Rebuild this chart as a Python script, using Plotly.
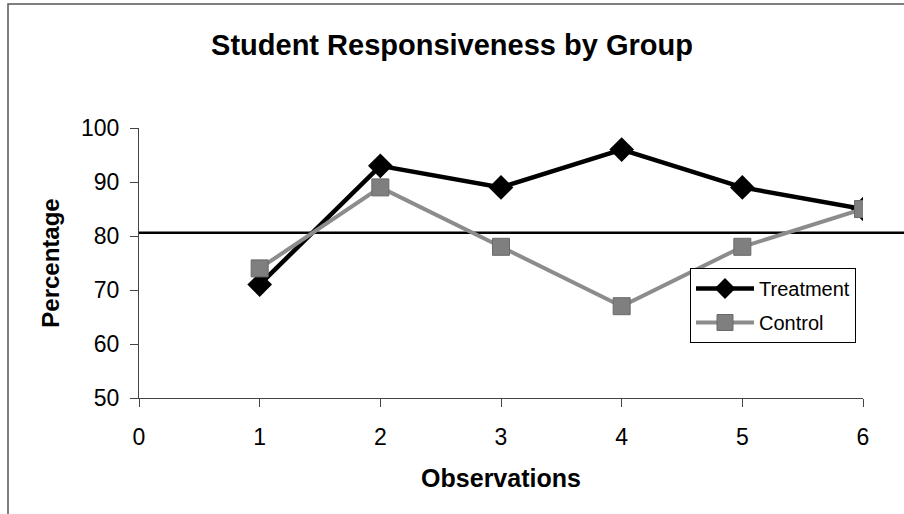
import plotly.graph_objects as go

observations = [1, 2, 3, 4, 5, 6]
treatment = [71, 93, 89, 96, 89, 85]
control = [74, 89, 78, 67, 78, 85]
criterion = 80.6

W, H = 904, 514
L, R, T, B = 139, 41, 128, 116
pw, ph = W - L - R, H - T - B

fig = go.Figure()
fig.add_trace(go.Scatter(
    x=observations, y=treatment, name="Treatment", mode="lines+markers",
    legendgroup="t",
    line=dict(color="black", width=4.5),
    marker=dict(symbol="diamond", size=19, color="black"),
))
fig.add_trace(go.Scatter(
    x=observations, y=control, name="Control", mode="lines+markers",
    legendgroup="c",
    line=dict(color="#8c8c8c", width=4),
    marker=dict(symbol="square", size=17, color="#7f7f7f",
                line=dict(color="#6a6a6a", width=1)),
))

# reference line extending across to the right edge
fig.add_shape(type="line", xref="paper", yref="y",
              x0=0, x1=(W - L) / pw, y0=criterion, y1=criterion,
              line=dict(color="black", width=2.5), layer="below")

# outer frame
fig.add_shape(type="rect", xref="paper", yref="paper",
              x0=(8 - L) / pw, x1=(W + 20 - L) / pw,
              y0=(H - B - (H + 20)) / ph, y1=(H - B - 4) / ph,
              line=dict(color="#555555", width=1.5), fillcolor="rgba(0,0,0,0)")

fig.update_layout(
    width=W, height=H,
    margin=dict(l=L, r=R, t=T, b=B),
    paper_bgcolor="white", plot_bgcolor="white",
    font=dict(family="Liberation Sans, Arial, sans-serif", color="black", size=23),
    title=dict(text="<b>Student Responsiveness by Group</b>", x=0.5, xanchor="center",
               y=1 - 45 / H, yanchor="middle", font=dict(size=29)),
    showlegend=True,
    legend=dict(x=(690 - L) / pw, y=(H - B - 268) / ph, xanchor="left", yanchor="top",
                bgcolor="white", bordercolor="black", borderwidth=1,
                font=dict(size=20), itemwidth=58, tracegroupgap=5),
    xaxis=dict(range=[0, 6], tickvals=[0, 1, 2, 3, 4, 5, 6], showgrid=False,
               zeroline=False, showline=True, linecolor="#444444", linewidth=1,
               ticks="outside", ticklen=8, tickcolor="#444444", ticklabelstandoff=10,
               title=dict(text="<b>Observations</b>", font=dict(size=25), standoff=20)),
    yaxis=dict(range=[50, 100], tickvals=[50, 60, 70, 80, 90, 100], showgrid=False,
               zeroline=False, showline=True, linecolor="#444444", linewidth=1,
               ticks="outside", ticklen=8, tickcolor="#444444", ticklabelstandoff=6,
               title=dict(text="<b>Percentage</b>", font=dict(size=24), standoff=14)),
)

fig.write_html("out.html")
